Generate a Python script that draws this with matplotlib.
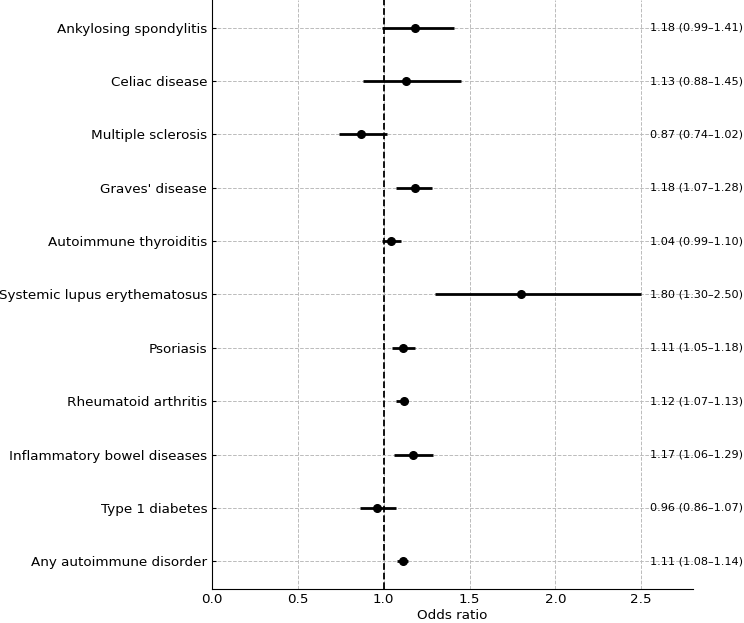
import matplotlib
matplotlib.use("Agg")
import matplotlib.pyplot as plt
import numpy as np

# forest plot data, top to bottom as shown
disorders = ["Ankylosing spondylitis", "Celiac disease", "Multiple sclerosis",
             "Graves' disease", "Autoimmune thyroiditis", "Systemic lupus erythematosus",
             "Psoriasis", "Rheumatoid arthritis", "Inflammatory bowel diseases",
             "Type 1 diabetes", "Any autoimmune disorder"]
odds = [1.18, 1.13, 0.87, 1.18, 1.04, 1.80, 1.11, 1.12, 1.17, 0.96, 1.11]
lower = [0.99, 0.88, 0.74, 1.07, 0.99, 1.30, 1.05, 1.07, 1.06, 0.86, 1.08]
upper = [1.41, 1.45, 1.02, 1.28, 1.10, 2.50, 1.18, 1.13, 1.29, 1.07, 1.14]

odds = np.array(odds)
lower = np.array(lower)
upper = np.array(upper)
ypos = np.arange(len(disorders))[::-1]

fig = plt.figure(figsize=(7.44, 6.23), dpi=100)
ax = fig.add_axes([0.285, 0.0546, 0.646, 0.9454])

ax.grid(True, linestyle='--', color='#bbbbbb', linewidth=0.7)
ax.set_axisbelow(True)

ax.errorbar(odds, ypos, xerr=[odds - lower, upper - odds], fmt='o', color='black',
            ecolor='black', elinewidth=2, markersize=5.5, capsize=0, zorder=3)
ax.axvline(1.0, color='black', linestyle='--', linewidth=1.3, zorder=2)

for y, o, l, u in zip(ypos, odds, lower, upper):
    ax.text(2.55, y, f"{o:.2f} ({l:.2f}\u2013{u:.2f})", va='center', ha='left',
            fontsize=8.1, clip_on=False)

ax.set_yticks(ypos)
ax.set_yticklabels(disorders, fontsize=9.7)
ax.set_xlim(0, 2.8)
ax.set_ylim(-0.52, 10.52)
ax.set_xticks([0, 0.5, 1.0, 1.5, 2.0, 2.5])
ax.tick_params(axis='x', labelsize=9.7, direction='in', length=0, pad=3)
ax.tick_params(axis='y', direction='in', length=3)
ax.set_xlabel("Odds ratio", fontsize=9.7, labelpad=2)

ax.spines['top'].set_visible(False)
ax.spines['right'].set_visible(False)

fig.savefig("out.png", dpi=100)
